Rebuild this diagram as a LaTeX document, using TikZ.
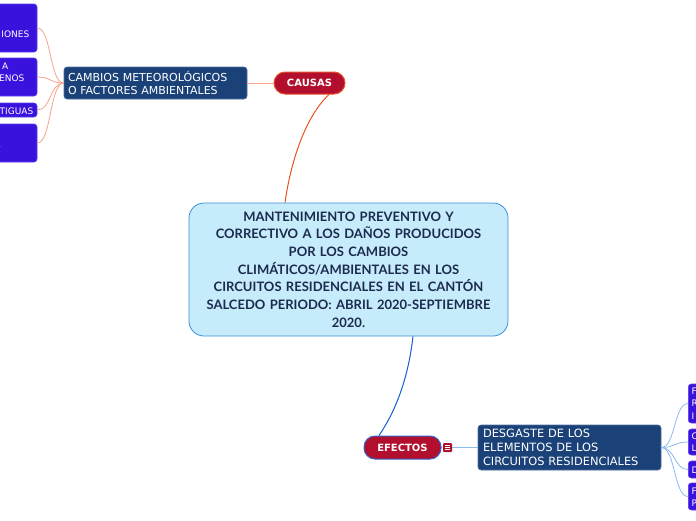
\documentclass[tikz,border=0pt]{standalone}
\usepackage{fontspec}
\usetikzlibrary{calc}
\setmainfont{DejaVu Sans}
\newfontfamily\cfont{Lato}
\definecolor{purF}{RGB}{58,18,222}
\definecolor{purB}{RGB}{90,60,235}
\definecolor{navF}{RGB}{27,66,120}
\definecolor{navB}{RGB}{80,110,160}
\definecolor{redF}{RGB}{178,14,46}
\definecolor{redB}{RGB}{232,80,40}
\definecolor{effB}{RGB}{50,100,200}
\definecolor{cenF}{RGB}{198,235,251}
\definecolor{cenB}{RGB}{60,143,214}
\definecolor{cenT}{RGB}{28,42,78}
\definecolor{salm}{RGB}{245,163,138}
\definecolor{orln}{RGB}{232,84,30}
\definecolor{blln}{RGB}{21,96,208}
\definecolor{ltbl}{RGB}{140,185,240}
\tikzset{
  purbox/.style={draw=purB, fill=purF, rounded corners=3pt, line width=0.6pt, inner sep=0pt},
  purtxt/.style={text=white, font=\fontsize{9}{11}\selectfont, inner sep=0pt},
  rtxt/.style={text=white, font=\fontsize{9}{12.3}\selectfont, inner sep=0pt, align=left, anchor=west},
  navbox/.style={draw=navB, fill=navF, rounded corners=3pt, line width=0.6pt, text=white, align=left, inner ysep=0pt, minimum width=183pt},
  pill/.style={fill=redF, rounded corners=11pt, line width=1pt, text=white, font=\fontsize{10}{11}\selectfont\bfseries, inner sep=0pt},
  sline/.style={draw=salm, line width=0.8pt},
  bline/.style={draw=ltbl, line width=0.8pt}
}
\begin{document}
\begin{tikzpicture}[x=1pt,y=-1pt]
\useasboundingbox (0,0) rectangle (696,520);
\clip (0,0) rectangle (696,520);
% left boxes
\node[purbox, minimum width=57pt, minimum height=48pt] (l1) at (8.5,28) {};
\node[purbox, minimum width=57pt, minimum height=38pt] (l2) at (8.5,77) {};
\node[purbox, minimum width=57pt, minimum height=14pt] (l3) at (8.5,110) {};
\node[purbox, minimum width=57pt, minimum height=38pt] (l4) at (8.5,143) {};
\node[purtxt, anchor=east] (t1) at (29.5,34) {IONES};
\node[purtxt, anchor=west] (t2a) at (2,66) {A};
\node[purtxt, anchor=east] (t2b) at (24.5,78) {ENOS};
\node[purtxt, anchor=east] (t3) at (33.5,111) {TIGUAS};
\node[purtxt, anchor=west] (t4) at (-4.8,144) {L};
% cambios
\node[navbox, text width=175pt, inner xsep=4pt, minimum height=32pt, font=\fontsize{11}{13}\selectfont] (cam) at (155.5,83) {CAMBIOS METEOROLÓGICOS\\O FACTORES AMBIENTALES};
% causas
\node[pill, draw=redB, minimum width=71pt, minimum height=22pt] (cau) at (309.5,83) {CAUSAS};
% central
\node[draw=cenB, fill=cenF, line width=0.8pt, rounded corners=15pt, minimum width=319pt, minimum height=133pt, text width=310pt, align=center, text=cenT, font=\cfont\fontsize{13}{17.7}\selectfont\bfseries] (cen) at (348.5,269.5) {MANTENIMIENTO PREVENTIVO Y\\CORRECTIVO A LOS DAÑOS PRODUCIDOS\\POR LOS CAMBIOS\\CLIMÁTICOS/AMBIENTALES EN LOS\\CIRCUITOS RESIDENCIALES EN EL CANTÓN\\SALCEDO PERIODO: ABRIL 2020-SEPTIEMBRE\\2020.};
% efectos
\node[pill, draw=effB, minimum width=77pt, minimum height=23pt] (efe) at (402.5,447.5) {EFECTOS};
\node[fill=redF, rounded corners=1pt, minimum width=9pt, minimum height=9pt, inner sep=0pt] (ico) at (447.5,447.5) {};
\draw[white, line width=0.6pt] ([xshift=-2.5pt,yshift=2pt]ico.center) -- ++(5,0)
  ([xshift=-2.5pt]ico.center) -- ++(5,0) ([xshift=-2.5pt,yshift=-2pt]ico.center) -- ++(5,0);
% desgaste
\node[navbox, text width=173pt, inner xsep=5pt, minimum height=45pt, font=\fontsize{11.4}{14}\selectfont] (des) at (569.5,447.5) {DESGASTE DE LOS\\ELEMENTOS DE LOS\\CIRCUITOS RESIDENCIALES};
% right boxes
\node[purbox, anchor=west, minimum width=40pt, minimum height=39pt] (r1) at (688,403.5) {};
\node[purbox, anchor=west, minimum width=40pt, minimum height=26pt] (r2) at (688,442) {};
\node[purbox, anchor=west, minimum width=40pt, minimum height=17pt] (r3) at (688,469.5) {};
\node[purbox, anchor=west, minimum width=40pt, minimum height=27pt] (r4) at (688,496.5) {};
\node[rtxt] (rt1) at (691.5,403.5) {F\\R\\I};
\node[rtxt] (rt2) at (691.5,442.5) {C\\L};
\node[rtxt] (rt3) at (691.5,470) {D};
\node[rtxt] (rt4) at (691.5,497.5) {F\\P};
% connectors
\foreach \b in {l1,l2,l3,l4}{
  \draw[sline] (cam.west) .. controls ++(-14,0) and ($(\b.east)+(14,0)$) .. (\b.east);
}
\draw[sline] (cam.east) -- (cau.west);
\draw[draw=orln, line width=1pt] (cen.north west -| 285,0) .. controls (291,160) and (306,116) .. (cau.south -| 329,0);
\draw[draw=blln, line width=1pt] (cen.south -| 413,0) .. controls (408,380) and (395,412) .. (efe.north -| 379,0);
\draw[bline] (ico.east) -- (des.west);
\foreach \b in {r1,r2,r3,r4}{
  \draw[bline] (des.east) .. controls ++(14,0) and ($(\b.west)+(-14,0)$) .. (\b.west);
}
\end{tikzpicture}
\end{document}
